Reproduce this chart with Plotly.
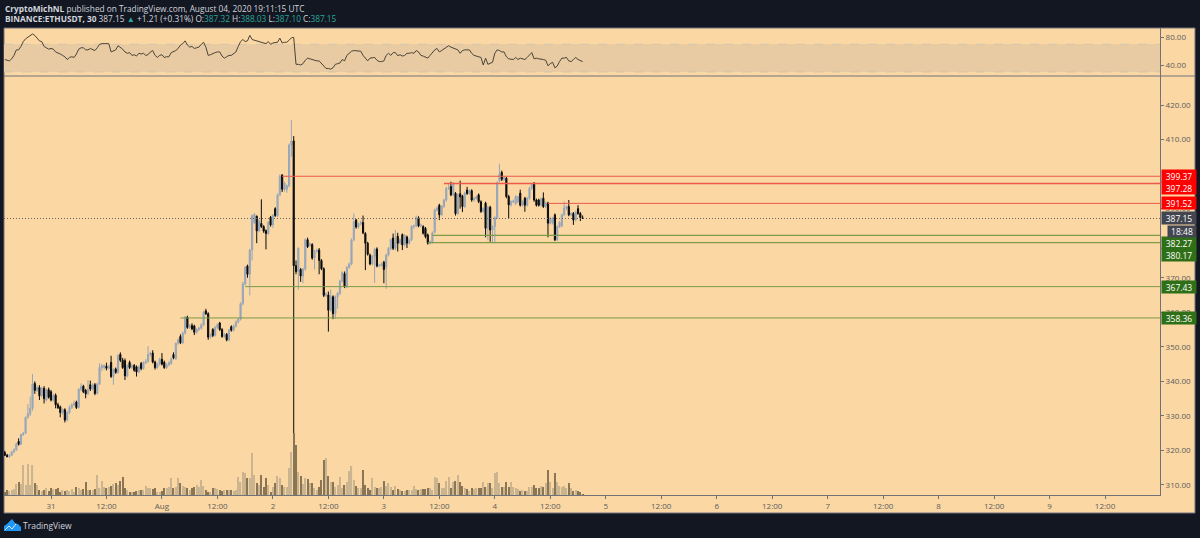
import pandas as pd
import plotly.graph_objects as go

W, H = 1200, 538

opens = [
    319.4, 318.6, 318.2, 318.6, 319.6, 320.2, 322.6, 321.8, 324.6, 325.0,
    329.6, 330.6, 332.2, 339.4, 337.4, 338.2, 335.8, 338.0, 334.6, 337.6,
    337.0, 334.6, 336.0, 333.2, 332.6, 331.0, 331.8, 328.8, 331.0, 332.4,
    333.2, 334.0, 332.4, 337.7, 338.6, 337.4, 336.4, 339.0, 337.8, 339.0,
    336.5, 339.2, 344.0, 344.0, 344.4, 343.8, 345.5, 341.4, 343.6, 342.6,
    347.8, 346.1, 346.0, 341.6, 345.5, 344.0, 344.6, 344.2, 342.7, 345.2,
    343.7, 345.4, 345.8, 347.8, 348.2, 345.6, 344.0, 345.0, 346.4, 345.5,
    344.0, 344.8, 345.2, 347.8, 346.6, 351.0, 353.0, 351.2, 354.0, 358.6,
    355.6, 356.2, 356.0, 354.2, 355.0, 355.4, 356.3, 360.4, 359.6, 352.8,
    355.0, 353.3, 355.6, 356.9, 355.0, 353.0, 353.6, 352.0, 355.8, 354.8,
    356.0, 357.2, 358.0, 362.5, 368.2, 373.4, 371.0, 378.0, 386.0, 387.8,
    383.6, 385.7, 384.8, 383.6, 382.8, 387.5, 385.3, 390.0, 388.0, 394.0,
    399.7, 395.6, 395.6, 396.6, 408.4, 409.6, 373.5, 371.8, 372.4, 370.5,
    372.5, 381.0, 379.3, 379.6, 375.7, 377.6, 378.0, 375.0, 372.6, 364.9,
    365.0, 360.6, 364.5, 359.6, 364.5, 365.5, 369.0, 371.2, 367.4, 373.0,
    374.0, 381.0, 386.7, 384.7, 385.6, 386.0, 382.8, 380.0, 376.5, 374.0,
    376.2, 378.3, 373.4, 373.6, 374.5, 373.0, 376.6, 378.5, 381.5, 378.5,
    382.0, 380.0, 382.5, 379.5, 381.8, 380.0, 381.0, 384.8, 385.0, 387.3,
    385.0, 384.8, 384.3, 382.4, 380.0, 380.4, 383.2, 389.6, 391.0, 388.2,
    390.6, 392.5, 395.9, 396.4, 394.0, 394.4, 388.6, 394.3, 393.7, 390.6,
    395.4, 394.4, 395.2, 392.5, 393.0, 394.0, 392.0, 389.2, 391.6, 384.3,
    390.4, 383.8, 384.8, 387.4, 398.0, 400.5, 398.5, 398.8, 393.5, 391.1,
    392.0, 391.5, 392.0, 394.5, 391.0, 393.0, 391.0, 393.0, 395.9, 397.3,
    392.5, 392.5, 391.0, 393.0, 390.6, 391.6, 385.8, 385.8, 388.2, 381.0,
    384.8, 385.0, 388.2, 390.2, 390.6, 388.2, 388.6, 386.7, 390.0, 388.6,
    387.32,
]
highs = [
    319.9, 319.0, 319.0, 319.8, 320.6, 322.2, 323.5, 324.8, 325.4, 329.8,
    333.4, 335.6, 342.1, 340.0, 338.8, 338.9, 338.4, 338.6, 337.9, 338.2,
    337.5, 336.4, 336.5, 333.8, 333.0, 332.2, 332.2, 331.4, 333.0, 333.6,
    334.4, 334.4, 338.0, 339.4, 339.0, 337.8, 340.4, 340.2, 339.4, 339.5,
    339.6, 345.2, 345.0, 344.9, 345.4, 344.8, 347.4, 343.8, 344.0, 347.8,
    348.4, 346.8, 346.6, 344.9, 346.0, 345.0, 345.0, 344.6, 344.6, 345.6,
    345.8, 346.4, 350.2, 348.6, 349.0, 346.0, 345.4, 346.8, 348.2, 346.0,
    345.2, 345.8, 346.9, 348.4, 351.2, 352.4, 353.6, 354.4, 358.9, 359.0,
    356.6, 356.8, 356.4, 355.4, 355.8, 356.8, 360.4, 361.0, 360.0, 353.9,
    355.4, 356.0, 356.8, 357.2, 355.4, 354.0, 354.0, 355.2, 356.2, 356.4,
    357.6, 358.4, 362.9, 368.8, 373.4, 373.8, 378.4, 388.3, 388.6, 388.0,
    386.9, 392.7, 385.2, 384.0, 386.4, 387.9, 388.4, 390.4, 394.4, 399.9,
    400.0, 397.8, 397.0, 408.8, 415.6, 411.0, 375.0, 378.8, 372.8, 372.9,
    381.4, 381.6, 380.2, 380.0, 378.0, 378.4, 378.6, 375.4, 373.0, 365.8,
    366.0, 366.6, 364.9, 364.9, 365.9, 369.4, 371.9, 371.8, 373.4, 374.4,
    381.4, 388.6, 387.0, 386.0, 386.5, 388.0, 383.2, 380.4, 377.0, 376.6,
    378.6, 378.8, 374.0, 374.4, 374.9, 376.9, 378.9, 381.4, 382.8, 383.8,
    383.0, 381.4, 382.8, 382.6, 382.2, 381.4, 385.2, 385.4, 388.0, 387.8,
    385.7, 385.2, 384.7, 382.8, 380.8, 383.4, 390.0, 390.6, 391.4, 391.0,
    392.9, 396.3, 397.4, 397.8, 397.7, 394.8, 394.4, 398.1, 394.0, 394.9,
    396.3, 395.6, 395.6, 393.4, 393.8, 394.4, 392.4, 390.4, 392.0, 390.8,
    390.8, 385.2, 387.8, 397.9, 403.0, 401.0, 399.4, 399.2, 394.0, 392.4,
    392.6, 393.9, 393.8, 395.5, 392.4, 393.4, 393.4, 396.3, 397.4, 397.7,
    392.9, 392.9, 393.2, 394.7, 392.0, 392.0, 387.6, 387.6, 388.6, 385.2,
    386.4, 388.6, 392.0, 390.9, 392.5, 389.0, 389.0, 389.4, 391.0, 389.0,
    388.03,
]
lows = [
    318.4, 318.0, 317.8, 318.3, 319.2, 319.9, 321.4, 321.6, 324.2, 324.8,
    329.2, 330.0, 331.5, 336.4, 336.9, 334.6, 335.4, 333.6, 334.2, 335.0,
    334.2, 334.2, 332.2, 332.0, 329.6, 330.4, 328.1, 328.4, 330.6, 332.0,
    332.8, 332.0, 332.2, 337.2, 336.6, 335.1, 336.0, 337.2, 337.4, 336.0,
    336.2, 339.0, 343.0, 343.4, 343.2, 343.4, 341.0, 339.0, 342.2, 342.2,
    345.6, 343.6, 340.4, 341.2, 343.6, 343.6, 342.8, 341.4, 342.4, 343.2,
    343.4, 345.0, 345.4, 347.2, 345.2, 343.4, 343.6, 344.6, 344.6, 343.6,
    343.6, 344.4, 344.8, 346.4, 346.2, 350.6, 350.8, 350.8, 353.6, 355.2,
    355.2, 354.8, 353.4, 353.8, 354.6, 355.0, 356.0, 359.2, 352.0, 352.4,
    352.8, 353.0, 355.2, 354.6, 352.6, 352.6, 351.6, 351.6, 354.4, 354.4,
    355.6, 356.8, 357.6, 362.0, 367.8, 370.0, 364.9, 375.0, 385.6, 380.0,
    383.2, 384.4, 383.0, 378.2, 382.4, 384.8, 384.4, 387.6, 387.6, 393.6,
    394.8, 395.0, 394.6, 396.2, 405.0, 324.5, 371.0, 366.5, 368.8, 368.4,
    372.0, 378.6, 379.0, 375.2, 372.4, 377.2, 371.0, 372.2, 364.4, 364.4,
    354.4, 360.2, 358.0, 358.2, 361.0, 365.0, 368.6, 367.0, 367.0, 372.6,
    373.6, 380.6, 384.2, 384.2, 385.2, 382.6, 372.2, 376.4, 373.6, 373.6,
    368.5, 373.0, 373.0, 373.2, 368.4, 366.8, 376.2, 378.0, 378.0, 378.0,
    377.6, 379.6, 378.0, 379.0, 378.6, 379.6, 380.6, 384.2, 384.6, 384.6,
    384.6, 382.5, 381.4, 379.6, 379.6, 379.9, 382.8, 389.2, 386.7, 387.8,
    390.2, 392.0, 395.4, 393.6, 393.6, 388.0, 388.2, 390.0, 389.0, 390.2,
    394.0, 394.0, 392.0, 392.0, 392.6, 391.6, 388.8, 388.8, 381.7, 380.8,
    380.4, 380.0, 380.0, 387.0, 397.6, 398.0, 398.0, 393.0, 387.2, 390.6,
    391.6, 391.0, 391.6, 390.6, 390.6, 389.1, 390.6, 392.6, 395.4, 392.0,
    390.6, 390.6, 390.6, 390.2, 390.2, 381.7, 385.4, 385.4, 380.6, 380.6,
    384.4, 384.6, 387.8, 389.6, 387.8, 387.8, 385.3, 386.3, 388.2, 386.4,
    387.10,
]
closes = [
    318.6, 318.2, 318.6, 319.6, 320.2, 321.9, 321.8, 324.6, 325.0, 329.6,
    330.6, 332.2, 339.2, 337.4, 338.2, 335.8, 337.9, 335.0, 337.6, 335.4,
    334.6, 336.0, 333.2, 332.4, 331.0, 331.8, 328.8, 331.0, 332.4, 333.2,
    333.6, 332.4, 337.7, 338.5, 337.0, 336.4, 337.6, 337.8, 339.0, 336.5,
    339.2, 344.0, 344.6, 344.5, 343.8, 344.4, 341.4, 343.4, 342.6, 347.5,
    346.1, 344.0, 341.6, 344.5, 344.0, 344.6, 343.2, 342.7, 344.2, 343.7,
    345.4, 345.8, 347.8, 348.2, 345.6, 344.0, 345.0, 346.4, 345.0, 344.0,
    344.8, 345.4, 346.5, 346.8, 351.0, 352.0, 351.2, 354.0, 358.6, 355.6,
    356.0, 355.2, 354.2, 355.0, 355.4, 356.3, 360.0, 359.6, 352.8, 353.5,
    353.3, 355.6, 356.4, 355.0, 353.0, 353.6, 352.0, 354.8, 354.8, 356.0,
    357.2, 358.0, 362.5, 368.2, 373.0, 371.0, 378.0, 388.0, 388.4, 383.6,
    386.5, 384.8, 383.5, 382.8, 386.0, 385.3, 388.0, 388.0, 394.0, 399.4,
    395.6, 397.4, 396.6, 408.4, 409.5, 373.5, 371.8, 378.5, 370.5, 372.5,
    381.0, 379.0, 379.8, 375.7, 377.6, 378.0, 375.0, 372.6, 364.9, 365.3,
    360.6, 364.5, 359.6, 364.5, 365.5, 369.0, 371.5, 367.4, 373.0, 374.0,
    381.0, 386.2, 384.7, 385.6, 386.0, 383.0, 380.0, 376.8, 374.0, 376.2,
    378.2, 373.4, 373.6, 374.0, 372.4, 376.6, 378.5, 381.0, 378.5, 380.2,
    380.0, 381.0, 379.5, 382.2, 380.0, 381.0, 384.8, 385.0, 387.5, 385.0,
    385.3, 382.9, 381.9, 380.0, 380.4, 383.0, 389.6, 390.2, 388.2, 390.6,
    392.5, 395.9, 396.0, 394.0, 397.3, 388.6, 394.0, 393.4, 390.6, 394.5,
    394.4, 395.2, 392.5, 393.0, 393.4, 392.0, 389.2, 390.0, 384.3, 390.4,
    383.8, 384.8, 387.4, 397.5, 400.0, 398.5, 399.0, 393.5, 391.1, 392.0,
    392.2, 393.5, 393.4, 391.0, 392.0, 391.0, 393.0, 395.9, 397.0, 392.5,
    391.0, 391.0, 392.8, 390.6, 391.6, 385.8, 387.2, 387.2, 381.0, 384.8,
    386.0, 388.2, 390.2, 390.6, 388.2, 388.6, 386.7, 389.0, 388.6, 387.4,
    387.15,
]
volumes = [
    3, 5, 4, 5, 6, 11, 13, 11, 30, 10,
    31, 10, 30, 12, 10, 5, 4, 5, 7, 4,
    7, 6, 6, 7, 3, 5, 4, 5, 4, 6,
    3, 8, 7, 5, 6, 13, 5, 5, 5, 6,
    20, 7, 14, 8, 7, 8, 9, 11, 12, 10,
    14, 18, 7, 5, 3, 3, 3, 4, 5, 5,
    5, 9, 7, 7, 6, 7, 3, 3, 4, 7,
    7, 8, 17, 7, 8, 17, 12, 9, 8, 7,
    5, 7, 8, 10, 8, 15, 9, 5, 3, 3,
    7, 7, 6, 5, 4, 5, 5, 5, 5, 4,
    5, 18, 13, 23, 22, 17, 17, 42, 20, 12,
    10, 20, 8, 17, 10, 3, 8, 12, 19, 17,
    10, 8, 8, 27, 43, 62, 50, 23, 19, 11,
    17, 16, 12, 12, 7, 5, 8, 15, 35, 37,
    19, 13, 13, 8, 10, 18, 7, 10, 13, 24,
    29, 15, 9, 7, 7, 25, 10, 7, 5, 17,
    8, 7, 7, 8, 14, 9, 12, 8, 5, 9,
    6, 5, 4, 4, 5, 5, 5, 9, 6, 5,
    6, 6, 6, 7, 7, 5, 18, 17, 12, 7,
    7, 14, 18, 7, 13, 14, 20, 13, 9, 7,
    6, 4, 7, 6, 7, 7, 7, 13, 8, 12,
    12, 7, 22, 23, 12, 8, 8, 13, 8, 13,
    8, 7, 6, 4, 5, 4, 4, 8, 8, 10,
    7, 7, 9, 8, 12, 25, 13, 7, 22, 13,
    9, 8, 9, 7, 12, 7, 4, 5, 4, 3,
    1,
]
rsi = [
    48, 47, 46, 49, 54, 62, 62, 67, 74, 78,
    80, 82, 85, 83, 79, 75, 74, 67, 65, 63,
    64, 63, 59, 58, 56, 54, 52, 48, 51, 52,
    51, 56, 63, 65, 65, 62, 62, 64, 63, 61,
    65, 70, 71, 71, 71, 71, 59, 61, 62, 68,
    66, 63, 59, 57, 58, 54, 55, 53, 57, 56,
    57, 54, 55, 59, 61, 54, 51, 54, 55, 51,
    52, 52, 58, 59, 61, 64, 69, 71, 75, 69,
    66, 67, 64, 65, 66, 70, 73, 66, 54, 55,
    57, 58, 59, 59, 53, 50, 52, 54, 54, 57,
    59, 67, 74, 77, 74, 75, 83, 77, 76, 75,
    74, 74, 73, 71, 74, 70, 72, 73, 73, 79,
    72, 73, 73, 76, 79.5, 80, 41, 41, 40, 42,
    47, 50, 49, 47, 47, 46, 46, 42, 39, 35,
    35, 34, 36, 41, 42, 43, 48, 46, 54, 57,
    60, 61, 61, 61, 60, 54, 50, 46, 50, 51,
    51, 47, 45, 45, 46, 54, 57, 54, 58, 58,
    53.5, 55, 53, 54, 57, 57, 58, 57, 61, 59,
    54, 53, 51, 50, 54, 58, 62, 64, 59, 61,
    63, 66, 68, 66, 65, 63, 62, 57, 61, 62,
    62, 62, 57, 54, 53, 52, 51, 40, 50, 41,
    42, 44, 57, 62, 61, 59, 59, 52, 49, 48,
    48, 51, 48, 50, 49, 48, 51, 54, 58, 49,
    50, 49, 49, 48, 47, 39, 42, 44, 36, 38.5,
    45, 50, 50, 51, 46, 45, 48, 51, 48, 46,
    45,
]

# horizontal levels drawn on the chart: price, start time, line width
res_levels = [399.37, 397.28, 391.52]
res_starts = ["2020-08-02 02:00", "2020-08-03 13:00", "2020-08-04 11:30"]
res_widths = [1, 1.6, 1]
sup_levels = [382.27, 380.17, 367.43, 358.36]
sup_starts = ["2020-08-03 10:30", "2020-08-03 09:30", "2020-08-01 18:00", "2020-08-01 04:00"]
sup_widths = [1.4, 1.4, 1, 1]
last_price = 387.15

tick_dates = [
    "2020-07-31 00:00", "2020-07-31 12:00", "2020-08-01 00:00", "2020-08-01 12:00",
    "2020-08-02 00:00", "2020-08-02 12:00", "2020-08-03 00:00", "2020-08-03 12:00",
    "2020-08-04 00:00", "2020-08-04 12:00", "2020-08-05 00:00", "2020-08-05 12:00",
    "2020-08-06 00:00", "2020-08-06 12:00", "2020-08-07 00:00", "2020-08-07 12:00",
    "2020-08-08 00:00", "2020-08-08 12:00", "2020-08-09 00:00", "2020-08-09 12:00",
]
tick_labels = ["31", "12:00", "Aug", "12:00", "2", "12:00", "3", "12:00", "4", "12:00",
               "5", "12:00", "6", "12:00", "7", "12:00", "8", "12:00", "9", "12:00"]
price_ticks = [310, 320, 330, 340, 350, 360, 370, 390, 410, 420]
rsi_ticks = [40, 80]

times = pd.date_range("2020-07-30 14:00", periods=len(closes), freq="30min")
x_start, x_end = "2020-07-30 13:50", "2020-08-09 23:53"

BG = "#fad7a3"
DARK = "#131722"
FRAME = "#70727a"
TICK = "#5d5d5d"
FONT = "Open Sans"
GREEN_LABEL = "#2f6f17"
RED_LABEL = "#ff0000"
GREY_LABEL = "#434651"
TEAL = "#26a69a"


# pixel position in the 1200x538 page -> paper coordinates
def px(x, y):
    return x / W, 1 - y / H


fig = go.Figure()

fig.add_trace(go.Scatter(x=times, y=rsi, mode="lines", xaxis="x2", yaxis="y2",
                         line=dict(color="#4a4438", width=1), showlegend=False))

vol_colors = ["#cbb591" if c >= o else "#8a7654" for o, c in zip(opens, closes)]
fig.add_trace(go.Bar(x=times, y=volumes, marker=dict(color=vol_colors, line_width=0),
                     xaxis="x", yaxis="y3", showlegend=False))

fig.add_trace(go.Candlestick(
    x=times, open=opens, high=highs, low=lows, close=closes,
    xaxis="x", yaxis="y", showlegend=False, whiskerwidth=0,
    increasing=dict(line=dict(color="#97a6ba", width=1), fillcolor="#97a6ba"),
    decreasing=dict(line=dict(color="#0a0a0a", width=1), fillcolor="#0a0a0a"),
))

shapes = []
# chart frame
x0, y0 = px(4, 513)
x1, y1 = px(1195, 28)
shapes.append(dict(type="rect", xref="paper", yref="paper", x0=x0, y0=y0, x1=x1, y1=y1,
                   fillcolor=BG, line=dict(color=FRAME, width=1), layer="below"))
# pane divider
xa, ya = px(4, 76)
xb, _ = px(1195, 76)
shapes.append(dict(type="line", xref="paper", yref="paper", x0=xa, y0=ya, x1=xb, y1=ya,
                   line=dict(color=FRAME, width=1)))
# RSI band
shapes.append(dict(type="rect", xref="x2 domain", yref="y2", x0=0, x1=1, y0=30, y1=70,
                   fillcolor="#e8cba2", line_width=0, layer="below"))
for lvl in [30, 70]:
    shapes.append(dict(type="line", xref="x2 domain", yref="y2", x0=0, x1=1, y0=lvl, y1=lvl,
                       line=dict(color="#d3c4ac", width=1, dash="dash"), layer="below"))
# levels
for lvl, start, lw in zip(res_levels, res_starts, res_widths):
    shapes.append(dict(type="line", xref="x", yref="y", x0=start, x1=x_end, y0=lvl, y1=lvl,
                       line=dict(color="#ee5a4a", width=lw)))
for lvl, start, lw in zip(sup_levels, sup_starts, sup_widths):
    shapes.append(dict(type="line", xref="x", yref="y", x0=start, x1=x_end, y0=lvl, y1=lvl,
                       line=dict(color="#7c9c48", width=lw)))
shapes.append(dict(type="line", xref="x", yref="y", x0=x_start, x1=x_end, y0=last_price, y1=last_price,
                   line=dict(color="#666666", width=1, dash="1px,2px")))


# TradingView logo, cloud with a zigzag
def poly(points, close=True):
    parts = []
    for k, (a, b) in enumerate(points):
        ax, ay = px(a, b)
        parts.append(("M" if k == 0 else "L") + f"{ax:.5f},{ay:.5f}")
    return " ".join(parts) + (" Z" if close else "")


shapes.append(dict(type="path", xref="paper", yref="paper", line_width=0, fillcolor="#2196f3",
                   path=poly([(4, 531), (4, 526), (7, 524), (12, 519), (15, 523), (18, 524), (21, 527), (21, 531)])))
shapes.append(dict(type="path", xref="paper", yref="paper", fillcolor="rgba(0,0,0,0)",
                   line=dict(color="#d8eefc", width=1),
                   path=poly([(5, 530), (9, 526), (12, 529), (16, 524)], close=False)))

annotations = []


def text_at(x, y, text, size, color, anchor="left"):
    ax, ay = px(x, y)
    annotations.append(dict(xref="paper", yref="paper", x=ax, y=ay, text=text, showarrow=False,
                            xanchor=anchor, yanchor="middle", align="left", borderpad=0,
                            font=dict(family=FONT, size=size, color=color)))


text_at(4, 8, "<b>CryptoMichNL</b> published on TradingView.com, August 04, 2020 19:11:15 UTC", 8.3, "#d1d4dc")
val = f'<span style="color:{TEAL}">%s</span>'
text_at(4, 19, "<b>BINANCE:ETHUSDT, 30</b> 387.15 "
        + f'<span style="color:{TEAL}">▲</span> +1.21 (+0.31%) '
        + "O:" + val % "387.32" + " H:" + val % "388.03"
        + " L:" + val % "387.10" + " C:" + val % "387.15", 8.3, "#d1d4dc")
text_at(22, 525, "TradingView", 8.5, "#d1d4dc")

# price labels on the right axis, shifted where TradingView stacks them
label_prices = res_levels + [last_price] + sup_levels
label_colors = [RED_LABEL] * 3 + [GREY_LABEL] + [GREEN_LABEL] * 4
label_shift = [0, -4, 0, 0, -7.3, -12, 0, 0]
ax_left, _ = px(1160.5, 0)
for p, c, s in zip(label_prices, label_colors, label_shift):
    annotations.append(dict(xref="paper", yref="y", x=ax_left, y=p, yshift=s, text=f"{p:.2f}", showarrow=False,
                            xanchor="left", yanchor="middle", bgcolor=c, width=34, height=12, borderpad=0,
                            font=dict(family=FONT, size=8.5, color="#ffffff")))
annotations.append(dict(xref="paper", yref="y", x=px(1167, 0)[0], y=last_price, yshift=-13, text="18:48",
                        showarrow=False, xanchor="left", yanchor="middle", bgcolor=GREY_LABEL,
                        width=28, height=11, borderpad=0,
                        font=dict(family=FONT, size=8.5, color="#ffffff")))

dom_x = [4 / W, 1160 / W]
dom_main = [1 - 495 / H, 1 - 76 / H]
dom_rsi = [1 - 76 / H, 1 - 28 / H]
tickfont = dict(family=FONT, size=8, color=TICK)

fig.update_layout(
    width=W, height=H, autosize=False,
    margin=dict(l=0, r=0, t=0, b=0, pad=0),
    paper_bgcolor=DARK, plot_bgcolor=BG,
    showlegend=False, bargap=0.5,
    shapes=shapes, annotations=annotations,
    xaxis=dict(domain=dom_x, range=[x_start, x_end], type="date", anchor="y",
               rangeslider=dict(visible=False), showgrid=False, zeroline=False,
               tickmode="array", tickvals=tick_dates, ticktext=tick_labels, tickangle=0,
               ticks="outside", ticklen=3, tickcolor=FRAME, tickfont=tickfont,
               showline=True, linecolor=FRAME, linewidth=1),
    xaxis2=dict(domain=dom_x, range=[x_start, x_end], type="date", anchor="y2",
                showgrid=False, zeroline=False, showticklabels=False, ticks=""),
    yaxis=dict(domain=dom_main, range=[307.1, 428.4], side="right", anchor="x",
               tickmode="array", tickvals=price_ticks, ticktext=[f"{v:.2f}" for v in price_ticks],
               ticks="outside", ticklen=3, tickcolor=FRAME, tickfont=tickfont,
               showgrid=False, zeroline=False, showline=True, linecolor=FRAME, linewidth=1),
    yaxis2=dict(domain=dom_rsi, range=[24.1, 93.7], side="right", anchor="x2",
                tickmode="array", tickvals=rsi_ticks, ticktext=[f"{v:.2f}" for v in rsi_ticks],
                ticks="outside", ticklen=3, tickcolor=FRAME, tickfont=tickfont,
                showgrid=False, zeroline=False, showline=True, linecolor=FRAME, linewidth=1),
    yaxis3=dict(domain=dom_main, range=[0, 419], overlaying="y", side="left", anchor="x",
                visible=False),
)

fig.write_html("out.html", config=dict(displayModeBar=False),
               post_script="document.body.style.margin='0';document.body.style.background='#131722';")
